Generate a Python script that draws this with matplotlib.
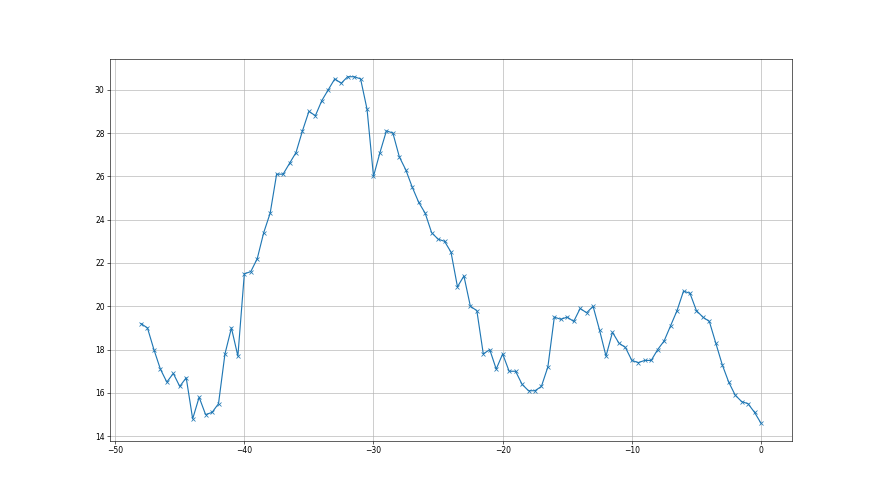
import numpy as np
from matplotlib import pyplot as plt

# x positions (half steps from -48 to 0)
x_vals = [-48, -47.5, -47, -46.5, -46, -45.5, -45, -44.5, -44, -43.5,
          -43, -42.5, -42, -41.5, -41, -40.5, -40, -39.5, -39, -38.5,
          -38, -37.5, -37, -36.5, -36, -35.5, -35, -34.5, -34, -33.5,
          -33, -32.5, -32, -31.5, -31, -30.5, -30, -29.5, -29, -28.5,
          -28, -27.5, -27, -26.5, -26, -25.5, -25, -24.5, -24, -23.5,
          -23, -22.5, -22, -21.5, -21, -20.5, -20, -19.5, -19, -18.5,
          -18, -17.5, -17, -16.5, -16, -15.5, -15, -14.5, -14, -13.5,
          -13, -12.5, -12, -11.5, -11, -10.5, -10, -9.5, -9, -8.5,
          -8, -7.5, -7, -6.5, -6, -5.5, -5, -4.5, -4, -3.5,
          -3, -2.5, -2, -1.5, -1, -0.5, 0]

y_vals = [19.2, 19.0, 18.0, 17.1, 16.5, 16.9, 16.3, 16.7, 14.8, 15.8,
          15.0, 15.1, 15.5, 17.8, 19.0, 17.7, 21.5, 21.6, 22.2, 23.4,
          24.3, 26.1, 26.1, 26.6, 27.1, 28.1, 29.0, 28.8, 29.5, 30.0,
          30.5, 30.3, 30.6, 30.6, 30.5, 29.1, 26.0, 27.1, 28.1, 28.0,
          26.9, 26.3, 25.5, 24.8, 24.3, 23.4, 23.1, 23.0, 22.5, 20.9,
          21.4, 20.0, 19.8, 17.8, 18.0, 17.1, 17.8, 17.0, 17.0, 16.4,
          16.1, 16.1, 16.3, 17.2, 19.5, 19.4, 19.5, 19.3, 19.9, 19.7,
          20.0, 18.9, 17.7, 18.8, 18.3, 18.1, 17.5, 17.4, 17.5, 17.5,
          18.0, 18.4, 19.1, 19.8, 20.7, 20.6, 19.8, 19.5, 19.3, 18.3,
          17.3, 16.5, 15.9, 15.6, 15.5, 15.1, 14.6]

fig = plt.figure(figsize=(16, 9), dpi=55)
plt.plot(x_vals, y_vals, marker='x')
plt.grid(True)
plt.savefig('out.png', dpi=55)
